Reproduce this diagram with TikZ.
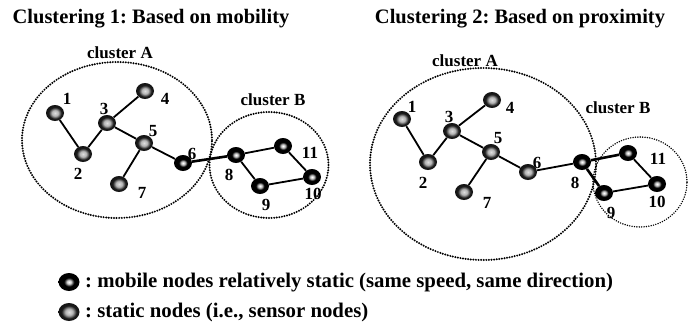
\documentclass[tikz,border=0pt]{standalone}
\usepackage{fontspec}
\setmainfont{Liberation Serif}
\usetikzlibrary{shapes.geometric}
\frenchspacing
\pgfdeclareradialshading{mobball}{\pgfpoint{0bp}{0bp}}{color(0bp)=(white); color(5bp)=(gray!40); color(12bp)=(black); color(50bp)=(black)}
\pgfdeclareradialshading{statball}{\pgfpoint{0bp}{0bp}}{color(0bp)=(gray!25); color(9bp)=(gray!60); color(18bp)=(black!90); color(50bp)=(black)}
\tikzset{
  ballbase/.style={ellipse, minimum width=18pt, minimum height=16pt, inner sep=0pt},
  mob/.style={ballbase, shading=mobball},
  stat/.style={ballbase, shading=statball},
  num/.style={font=\fontsize{17}{17}\selectfont\bfseries, inner sep=0pt},
  ttl/.style={font=\fontsize{20.5}{20.5}\selectfont\bfseries, inner sep=0pt},
  clab/.style={font=\fontsize{17}{17}\selectfont\bfseries, inner sep=0pt},
  leg/.style={font=\fontsize{20.8}{20.8}\selectfont\bfseries, inner sep=0pt, anchor=west},
  edge/.style={line width=1.8pt},
  thickedge/.style={line width=2.6pt},
  clus/.style={line width=2.2pt, line cap=round, dash pattern=on 0pt off 2.6pt},
  thinclus/.style={line width=1.6pt, line cap=round, dash pattern=on 0pt off 2.4pt}
}
\begin{document}
\begin{tikzpicture}[x=1pt,y=-1pt]
\useasboundingbox (0,0) rectangle (690,321);
% ---- Left: clustering 1
\node[ttl] (t1) at (151,19) {Clustering 1: Based on mobility};
\node[draw, clus, ellipse, minimum width=190pt, minimum height=156pt] (cA1) at (117,140) {};
\node[draw, clus, ellipse, minimum width=119pt, minimum height=106pt] (cB1) at (269,165) {};
\node[clab] (lA1) at (120,53) {cluster A};
\node[clab] (lB1) at (273,100) {cluster B};
\node[stat] (a1) at (55,113) {};
\node[stat] (a2) at (83,154) {};
\node[stat] (a3) at (107,123) {};
\node[stat] (a4) at (145,91) {};
\node[stat] (a5) at (144,143) {};
\node[mob]  (a6) at (183,163) {};
\node[stat] (a7) at (119,184) {};
\node[mob]  (a8) at (236,155) {};
\node[mob]  (a9) at (260,186) {};
\node[mob]  (a10) at (312,177) {};
\node[mob]  (a11) at (283,146) {};
\draw[edge] (a1) -- (a2);
\draw[edge] (a2) -- (a3);
\draw[edge] (a3) -- (a4);
\draw[edge] (a3) -- (a5);
\draw[edge] (a5) -- (a7);
\draw[edge] (a5) -- (a6);
\draw[thickedge] (a6) -- (a8);
\draw[edge] (a8) -- (a11);
\draw[edge] (a11) -- (a10);
\draw[edge] (a10) -- (a9);
\draw[edge] (a9) -- (a8);
\node[num] (na1) at (67,99) {1};
\node[num] (na2) at (78,174) {2};
\node[num] (na3) at (104,109) {3};
\node[num] (na4) at (165,99) {4};
\node[num] (na5) at (153,131) {5};
\node[num] (na6) at (192,154) {6};
\node[num] (na7) at (142,193) {7};
\node[num] (na8) at (229,175) {8};
\node[num] (na9) at (266,205) {9};
\node[num] (na10) at (313,194) {10};
\node[num] (na11) at (310,153) {11};
% ---- Right: clustering 2
\node[ttl] (t2) at (520,19) {Clustering 2: Based on proximity};
\node[draw, clus, ellipse, minimum width=226pt, minimum height=192pt] (cA2) at (483,164) {};
\node[draw, thinclus, ellipse, minimum width=94pt, minimum height=90pt] (cB2) at (640,182) {};
\node[clab] (lA2) at (465,61) {cluster A};
\node[clab] (lB2) at (618,108) {cluster B};
\node[stat] (b1) at (402,119) {};
\node[stat] (b2) at (428,162) {};
\node[stat] (b3) at (452,131) {};
\node[stat] (b4) at (492,100) {};
\node[stat] (b5) at (491,152) {};
\node[stat] (b6) at (528,172) {};
\node[stat] (b7) at (464,192) {};
\node[mob]  (b8) at (582,162) {};
\node[mob]  (b9) at (604,193) {};
\node[mob]  (b10) at (657,184) {};
\node[mob]  (b11) at (628,153) {};
\draw[edge] (b1) -- (b2);
\draw[edge] (b2) -- (b3);
\draw[edge] (b3) -- (b4);
\draw[edge] (b3) -- (b5);
\draw[edge] (b5) -- (b7);
\draw[edge] (b5) -- (b6);
\draw[edge] (b6) -- (b8);
\draw[thickedge] (b8) -- (b11);
\draw[thickedge] (b8) -- (b9);
\draw[edge] (b11) -- (b10);
\draw[edge] (b10) -- (b9);
\node[num] (nb1) at (412,107) {1};
\node[num] (nb2) at (423,183) {2};
\node[num] (nb3) at (449,117) {3};
\node[num] (nb4) at (510,108) {4};
\node[num] (nb5) at (498,138) {5};
\node[num] (nb6) at (537,163) {6};
\node[num] (nb7) at (487,203) {7};
\node[num] (nb8) at (575,183) {8};
\node[num] (nb9) at (611,213) {9};
\node[num] (nb10) at (657,202) {10};
\node[num] (nb11) at (658,159) {11};
% ---- Legend
\node[mob, minimum width=21pt, minimum height=18pt] (k1) at (69,282) {};
\node[stat, minimum width=21pt, minimum height=18pt] (k2) at (69,312) {};
\node[leg] (kt1) at (85,283) {: mobile nodes relatively static (same speed, same direction)};
\node[leg] (kt2) at (85,312) {: static nodes (i.e., sensor nodes)};
\end{tikzpicture}
\end{document}
